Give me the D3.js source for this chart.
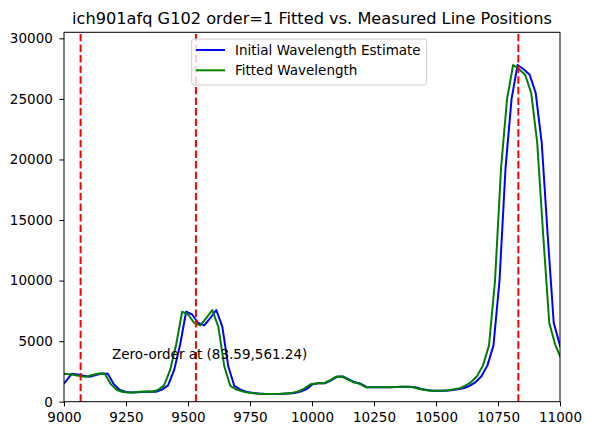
<!DOCTYPE html>
<html>
<head>
<meta charset="utf-8">
<script src="https://cdn.jsdelivr.net/npm/d3@7"></script>
<style>
  body { margin: 0; background: #fff; }
  text { font-family: "DejaVu Sans", sans-serif; fill: #000; }
</style>
</head>
<body>
<div id="chart"></div>
<script>
// wavelengths of the initial estimate (Angstrom), one per extracted pixel
var blueWave = [8982.2, 9006.5, 9030.8, 9055.1, 9079.4, 9103.7, 9128.0, 9152.3, 9176.6, 9200.9,
  9225.2, 9249.5, 9273.8, 9298.1, 9322.4, 9346.7, 9371.0, 9395.3, 9419.6, 9443.9,
  9468.2, 9492.5, 9516.8, 9541.1, 9565.4, 9589.7, 9614.0, 9638.3, 9662.6, 9686.9,
  9711.2, 9735.5, 9759.8, 9784.1, 9808.4, 9832.7, 9857.0, 9881.3, 9905.6, 9929.9,
  9954.2, 9978.5, 10002.8, 10027.1, 10051.4, 10075.7, 10100.0, 10124.3, 10148.6, 10172.9,
  10197.2, 10221.5, 10245.8, 10270.1, 10294.4, 10318.7, 10343.0, 10367.3, 10391.6, 10415.9,
  10440.2, 10464.5, 10488.8, 10513.1, 10537.4, 10561.7, 10586.0, 10610.3, 10634.6, 10658.9,
  10683.2, 10707.5, 10731.8, 10756.1, 10780.4, 10804.7, 10829.0, 10853.3, 10877.6, 10901.9,
  10926.2, 10950.5, 10974.8, 10999.1, 11023.4, 11047.7]

// wavelengths after the fit
var greenWave = [8950.0, 8974.3, 9000.6, 9030.9, 9059.2, 9087.6, 9113.9, 9140.2, 9164.5, 9188.8,
  9213.1, 9237.4, 9259.7, 9284.0, 9308.3, 9332.6, 9356.9, 9381.2, 9403.5, 9427.8,
  9452.1, 9476.4, 9500.7, 9525.0, 9549.3, 9573.6, 9597.9, 9622.2, 9646.5, 9670.8,
  9695.1, 9723.4, 9747.7, 9772.0, 9796.3, 9820.6, 9844.9, 9869.2, 9893.5, 9917.8,
  9942.1, 9966.4, 9994.7, 10022.3, 10046.6, 10070.9, 10095.2, 10119.5, 10143.8, 10168.1,
  10192.4, 10216.7, 10237.7, 10262.0, 10286.3, 10310.6, 10334.9, 10359.2, 10383.5, 10407.8,
  10432.1, 10456.4, 10474.7, 10499.0, 10523.3, 10547.6, 10571.9, 10596.2, 10616.5, 10640.8,
  10665.1, 10689.4, 10713.7, 10738.0, 10762.3, 10786.6, 10810.9, 10835.2, 10859.5, 10883.8,
  10908.1, 10932.4, 10956.7, 10981.0, 11005.3, 11029.6]

// measured counts, shared by both curves
var flux = [1150, 1650, 2300, 2250, 2150, 2050, 2200, 2330, 2300, 1450,
  970, 800, 760, 780, 820, 840, 820, 1000, 1350, 2600,
  4700, 7430, 7200, 6500, 6300, 6900, 7570, 6200, 2900, 1300,
  1000, 830, 730, 680, 650, 640, 640, 650, 680, 720,
  830, 1050, 1450, 1520, 1520, 1750, 2050, 2080, 1850, 1600,
  1480, 1200, 1190, 1190, 1190, 1200, 1220, 1240, 1230, 1190,
  1050, 960, 910, 900, 910, 950, 1020, 1110, 1300, 1600,
  2100, 3000, 4650, 10000, 19300, 25000, 27800, 27450, 27000, 25500,
  21400, 13700, 6500, 4700, 3500, 2500]

// fitted line positions (red dashed)
var lineWaves = [9067, 9532, 10832]

var xTicks = [9000, 9250, 9500, 9750, 10000, 10250, 10500, 10750, 11000]
var yTicks = [0, 5000, 10000, 15000, 20000, 25000, 30000]

var title = "ich901afq G102 order=1 Fitted vs. Measured Line Positions"
var seriesNames = ["Initial Wavelength Estimate", "Fitted Wavelength"]
var seriesColors = ["#0000ff", "#008000"]
var note = "Zero-order at (83.59,561.24)"

var width = 591, height = 435
var plot = {left: 64, right: 560, top: 32.3, bottom: 401.7}
var fs = 13.5   // tick / legend / note font size

var svg = d3.select("#chart").append("svg")
    .attr("width", width)
    .attr("height", height)

svg.append("rect").attr("width", width).attr("height", height).attr("fill", "#fff")

var xScale = d3.scaleLinear().domain([9000, 11000]).range([plot.left, plot.right])
var yScale = d3.scaleLinear().domain([0, 30500]).range([plot.bottom, plot.top])

svg.append("clipPath").attr("id", "clip")
   .append("rect")
   .attr("x", plot.left).attr("y", plot.top)
   .attr("width", plot.right - plot.left).attr("height", plot.bottom - plot.top)

var g = svg.append("g").attr("clip-path", "url(#clip)")

// the two spectra
var waves = [blueWave, greenWave]
waves.forEach(function(w, k){
    var line = d3.line()
        .x(function(d, i){ return xScale(w[i]) })
        .y(function(d){ return yScale(d) })
    g.append("path")
     .datum(flux)
     .attr("d", line)
     .attr("fill", "none")
     .attr("stroke", seriesColors[k])
     .attr("stroke-width", 2)
     .attr("stroke-linejoin", "round")
})

// fitted line positions
g.selectAll(".fitline")
 .data(lineWaves)
 .enter()
 .append("line")
 .attr("x1", function(d){ return xScale(d) })
 .attr("x2", function(d){ return xScale(d) })
 .attr("y1", plot.bottom)
 .attr("y2", plot.top)
 .attr("stroke", "#ff0000")
 .attr("stroke-width", 2)
 .attr("stroke-dasharray", "7.4,3.2")

// axes
var xAxis = d3.axisBottom(xScale).tickValues(xTicks).tickSize(4.7).tickPadding(6.5).tickFormat(d3.format("d"))
var yAxis = d3.axisLeft(yScale).tickValues(yTicks).tickSize(4.7).tickPadding(6.5).tickFormat(d3.format("d"))

var gx = svg.append("g").attr("transform", "translate(0," + plot.bottom + ")").call(xAxis)
var gy = svg.append("g").attr("transform", "translate(" + plot.left + ",0)").call(yAxis)
;[gx, gy].forEach(function(a){
    a.select(".domain").remove()
    a.selectAll("line").attr("stroke", "#000").attr("stroke-width", 1)
    a.selectAll("text").attr("font-size", fs + "px").attr("font-family", "DejaVu Sans").attr("fill", "#000")
})

// frame
svg.append("rect")
   .attr("x", plot.left).attr("y", plot.top)
   .attr("width", plot.right - plot.left).attr("height", plot.bottom - plot.top)
   .attr("fill", "none").attr("stroke", "#000").attr("stroke-width", 1)

// title
svg.append("text")
   .attr("x", (plot.left + plot.right) / 2)
   .attr("y", 24)
   .attr("text-anchor", "middle")
   .attr("font-size", "16.2px")
   .text(title)

// annotation
svg.append("text")
   .attr("x", 112)
   .attr("y", 358.5)
   .attr("font-size", fs + "px")
   .text(note)

// legend
var leg = svg.append("g")
var legBox = leg.append("rect")
   .attr("x", 191.7).attr("y", 39)
   .attr("height", 46)
   .attr("rx", 2.5)
   .attr("fill", "#fff").attr("fill-opacity", 0.8)
   .attr("stroke", "#cccccc").attr("stroke-width", 1)
var maxW = 0
seriesNames.forEach(function(name, k){
    var cy = 50 + k * 20.3
    leg.append("line")
       .attr("x1", 196).attr("x2", 225)
       .attr("y1", cy).attr("y2", cy)
       .attr("stroke", seriesColors[k]).attr("stroke-width", 2)
    var t = leg.append("text")
       .attr("x", 235).attr("y", cy + 4.8)
       .attr("font-size", fs + "px")
       .text(name)
    maxW = Math.max(maxW, t.node().getComputedTextLength())
})
legBox.attr("width", 235 + maxW + 6 - 191.7)
</script>
</body>
</html>
